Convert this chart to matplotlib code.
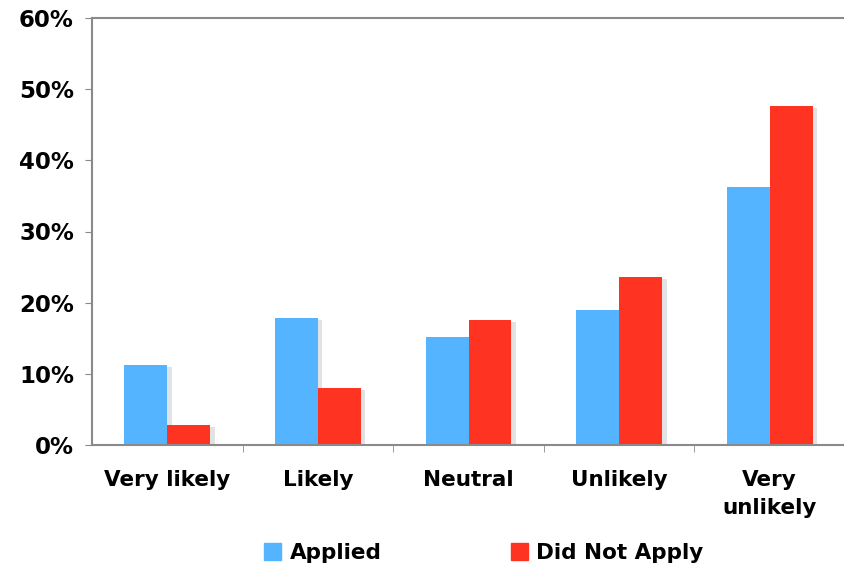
import matplotlib
matplotlib.use("Agg")
import matplotlib.pyplot as plt
from matplotlib.patches import Patch
import numpy as np

categories = ["Very likely", "Likely", "Neutral", "Unlikely", "Very\nunlikely"]
applied = [11.2, 17.8, 15.2, 19.0, 36.2]
did_not_apply = [2.8, 8.0, 17.6, 23.6, 47.6]
yticks = [0, 10, 20, 30, 40, 50, 60]
ytick_labels = ["0%", "10%", "20%", "30%", "40%", "50%", "60%"]
series_names = ["Applied", "Did Not Apply"]

blue = "#55B4FF"
red = "#FF3322"
spine_c = "#8a8a8a"

plt.rcParams['font.family'] = ['DejaVu Sans']
fig = plt.figure(figsize=(8.44, 5.73), dpi=100)
ax = fig.add_axes([92/844, 1-445/573, (845-92)/844, (445-18)/573])

x = np.arange(len(categories))
w = 0.285
# subtle shadows
ax.bar(x - w/2 + 0.03, applied, w, color="#e2e2e2", zorder=1, bottom=-0.3)
ax.bar(x + w/2 + 0.03, did_not_apply, w, color="#e2e2e2", zorder=1, bottom=-0.3)
ax.bar(x - w/2, applied, w, color=blue, zorder=2)
ax.bar(x + w/2, did_not_apply, w, color=red, zorder=2)

ax.set_xlim(-0.5, 4.5)
ax.set_ylim(0, 60)
ax.set_yticks(yticks)
ax.set_yticklabels(ytick_labels, fontsize=16.5, fontweight='bold')
ax.set_xticks(x)
ax.set_xticklabels(categories, fontsize=15.5, fontweight='bold', linespacing=1.5, va='top')
ax.tick_params(axis='x', which='major', length=0, pad=18)
ax.set_xticks(np.arange(0.5, 4.5, 1), minor=True)
ax.tick_params(axis='x', which='minor', length=5, color=spine_c)
ax.tick_params(axis='y', length=5, color=spine_c, pad=8)

for s in ['left', 'bottom', 'top']:
    ax.spines[s].set_color(spine_c)
    ax.spines[s].set_linewidth(1.5)
ax.spines['right'].set_visible(False)

handles = [Patch(color=blue), Patch(color=red)]
fig.legend(handles, series_names, loc='center', bbox_to_anchor=(0.573, 0.035),
           ncol=2, frameon=False, prop={'size': 15.5, 'weight': 'bold'},
           handlelength=0.8, handleheight=0.8, handletextpad=0.4, columnspacing=6.0)

fig.savefig("out.png", dpi=100)
